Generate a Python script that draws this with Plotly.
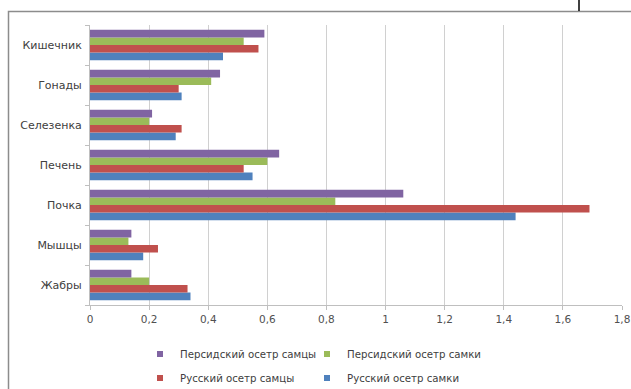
import plotly.graph_objects as go

categories = ["Жабры", "Мышцы", "Почка", "Печень", "Селезенка", "Гонады", "Кишечник"]
rus_f = [0.34, 0.18, 1.44, 0.55, 0.29, 0.31, 0.45]   # Русский осетр самки
rus_m = [0.33, 0.23, 1.69, 0.52, 0.31, 0.30, 0.57]   # Русский осетр самцы
per_f = [0.20, 0.13, 0.83, 0.60, 0.20, 0.41, 0.52]   # Персидский осетр самки
per_m = [0.14, 0.14, 1.06, 0.64, 0.21, 0.44, 0.59]   # Персидский осетр самцы
x_ticks = [0, 0.2, 0.4, 0.6, 0.8, 1.0, 1.2, 1.4, 1.6, 1.8]

series = [
    ("Русский осетр самки", rus_f, "#4F81BD", "legend4"),
    ("Русский осетр самцы", rus_m, "#C0504D", "legend3"),
    ("Персидский осетр самки", per_f, "#9BBB59", "legend2"),
    ("Персидский осетр самцы", per_m, "#8064A2", "legend"),
]

fig = go.Figure()
for name, vals, col, lg in series:
    fig.add_trace(go.Bar(y=categories, x=vals, orientation="h", name=name,
                         marker=dict(color=col, line=dict(width=0)),
                         showlegend=False))
for name, vals, col, lg in series:
    fig.add_trace(go.Scatter(x=[None], y=[None], mode="markers", name=name,
                             marker=dict(symbol="square", size=6, color=col),
                             legend=lg, showlegend=True))

W, H = 631, 389
L, R, T, B = 90, 9, 25, 84
pw, ph = W - L - R, H - T - B

def px(p):
    return (p - L) / pw

def py(q):
    return (H - B - q) / ph

FAM = "DejaVu Sans, Liberation Sans, sans-serif"
font = dict(family=FAM, size=10.5, color="#505050")
lfont = dict(family=FAM, size=10.2, color="#404040")

def leg(xp, yp):
    return dict(orientation="h", xref="container", yref="container",
                x=xp / W, xanchor="left", y=1 - yp / H, yanchor="middle",
                font=lfont, bgcolor="rgba(0,0,0,0)", itemwidth=30)

fig.update_layout(
    width=W, height=H,
    margin=dict(l=L, r=R, t=T, b=B, autoexpand=False),
    paper_bgcolor="white", plot_bgcolor="white",
    barmode="group", bargap=0.24, bargroupgap=0,
    separators=", ",
    font=font,
    xaxis=dict(range=[0, 1.8], tickvals=x_ticks, tickformat=".1~f",
               showgrid=True, gridcolor="#D0D0D0", gridwidth=1,
               showline=True, linecolor="#BFBFBF", linewidth=1,
               ticks="outside", ticklen=4, tickcolor="#BFBFBF",
               zeroline=False, fixedrange=True, tickfont=font, automargin=False),
    yaxis=dict(categoryorder="array", categoryarray=categories,
               showline=True, linecolor="#BFBFBF", linewidth=1,
               ticks="outside", ticklen=4, tickcolor="#BFBFBF",
               tickson="boundaries", showgrid=False, fixedrange=True,
               ticklabelstandoff=5, tickfont=dict(family=FAM, size=11, color="#404040"),
               automargin=False),
    legend=leg(140, 354),
    legend2=leg(307, 354),
    legend3=leg(140, 378),
    legend4=leg(307, 378),
    shapes=[
        dict(type="rect", xref="paper", yref="paper",
             x0=px(8.5), x1=px(650), y0=py(400), y1=py(11.5),
             line=dict(color="#8C8C8C", width=1.5), fillcolor="rgba(0,0,0,0)", layer="below"),
        dict(type="line", xref="paper", yref="paper",
             x0=px(579), x1=px(579), y0=py(0), y1=py(11),
             line=dict(color="black", width=1.5)),
    ],
)

fig.write_html("out.html", config={"displayModeBar": False},
               post_script="document.body.style.margin='0';document.body.style.overflow='hidden';")
